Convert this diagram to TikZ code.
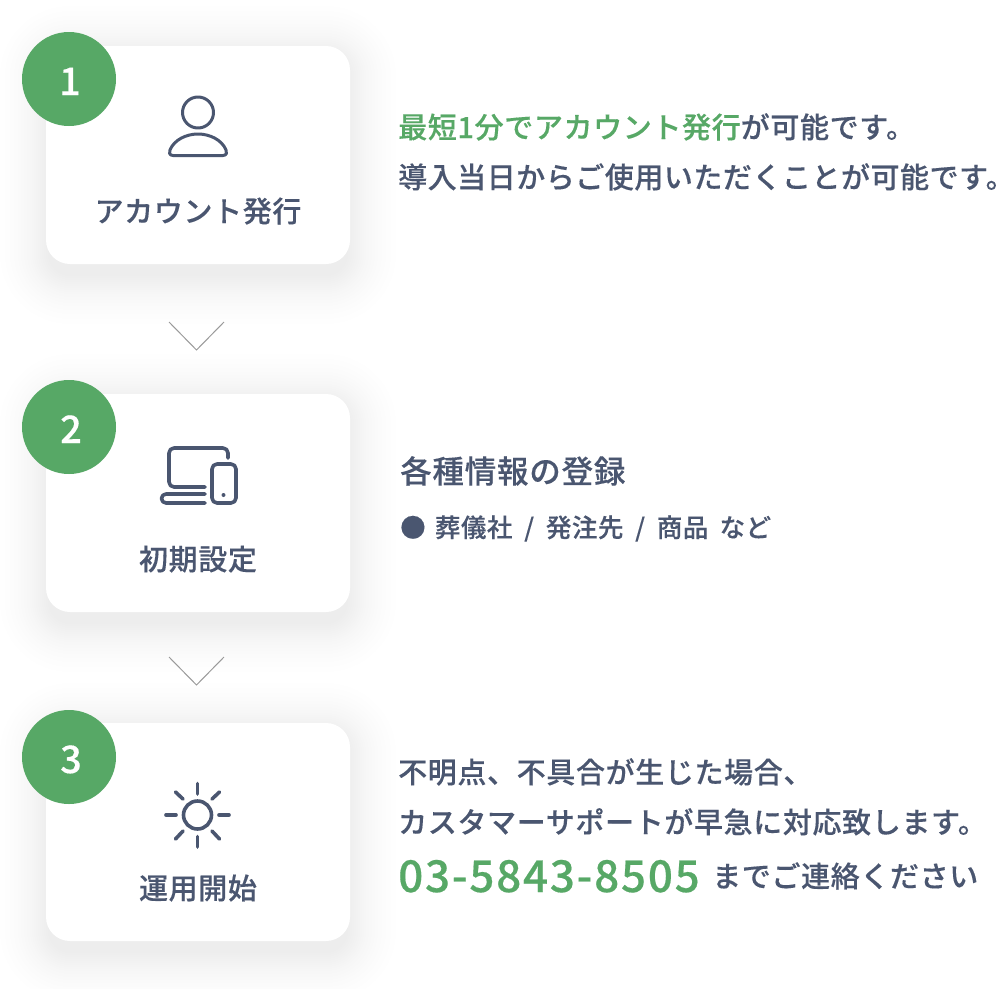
\documentclass[tikz,border=0pt]{standalone}
\usepackage{fontspec}
\setmainfont{Noto Sans CJK JP}[LetterSpace=3]
\newfontfamily\jpm{Noto Sans CJK JP Medium}[LetterSpace=2.2,FakeBold=0.25]
\newfontfamily\jpt{Noto Sans CJK JP Medium}[LetterSpace=1.8,FakeBold=0.25]
\newfontfamily\jpb{Noto Sans CJK JP Medium}[LetterSpace=2.5,FakeBold=0.25]
\newfontfamily\jps{Noto Sans CJK JP Medium}[LetterSpace=2,FakeBold=0.25]
\newfontfamily\jpn{Noto Sans CJK JP Medium}[LetterSpace=4,FakeBold=0.4]
\definecolor{ink}{HTML}{4A5670}
\definecolor{leaf}{HTML}{57A866}
\definecolor{chev}{HTML}{9A9A9A}
\newcommand{\fsz}[1]{\fontsize{#1pt}{#1pt}\selectfont}
\tikzset{
  x=1pt,y=-1pt,
  card/.style={fill=white,rounded corners=24pt,minimum width=304pt,minimum height=218pt,inner sep=0pt},
  badge/.style={circle,fill=leaf,minimum size=94pt,inner sep=0pt},
  numeral/.style={inner sep=0pt,text=white,font=\jpn\fsz{38},anchor=base},
  lab/.style={inner sep=0pt,text=ink,font=\jpm\fsz{29},anchor=base},
  txt/.style={inner sep=0pt,text=ink,font=\jpm\fsz{29},anchor=base west},
  icon/.style={draw=ink,line width=3pt,line cap=round,line join=round},
  iconb/.style={icon,line width=3.6pt},
  chevron/.style={draw=chev,line width=1pt},
}
\newcommand{\CardShadow}[1]{%
  \foreach \d [evaluate=\d as \r using 24+\d] in {-2,0,2,4,6,8,10,12,14,16,19,22,25,28,32,36,41,46}{%
    \fill[black,opacity=.0025,rounded corners=\r pt]
      ({46-\d},{#1+6-\d}) rectangle ({350+\d},{#1+218+14+\d});
  }%
}
\begin{document}
\begin{tikzpicture}
\useasboundingbox (0,0) rectangle (1000,988);
\fill[white] (0,0) rectangle (1000,988);
\CardShadow{46}
\CardShadow{394}
\CardShadow{723}
% cards
\node[card] (c1) at (198,155) {};
\node[card] (c2) at (198,503) {};
\node[card] (c3) at (198,832) {};
\node[badge] (b1) at (69,79) {};
\node[badge] (b2) at (69,427) {};
\node[badge] (b3) at (69,757) {};
\node[numeral] (n1) at (70,95) {1};
\node[numeral] (n2) at (71,443) {2};
\node[numeral] (n3) at (71,773) {3};
% chevrons
\draw[chevron] (169,322) -- (196.5,350) -- (224,322);
\draw[chevron] (169,657) -- (196.5,685) -- (224,657);
% person
\draw[icon] (198,112.5) circle (15.5);
\draw[icon] (173,155.5) .. controls (169,155.5) and (169,152) .. (170,150)
  .. controls (174,140) and (186,134) .. (198,134)
  .. controls (210,134) and (222,140) .. (226,150)
  .. controls (227,152) and (227,155.5) .. (223,155.5) -- cycle;
% devices
\draw[iconb] (228,458) -- (228,453) arc (0:-90:5) -- (174,448) arc (-90:-180:5)
  -- (169,482) arc (180:90:5) -- (205,487);
\draw[iconb] (205,494) -- (166,494) arc (-90:-270:4.5) -- (205,503);
\draw[iconb,rounded corners=5pt] (212,464) rectangle (236,503);
\fill[ink] (223.5,495) circle (2);
% sun
\draw[iconb] (197.5,815) circle (14);
\draw[iconb] (197.5,783.5) -- (197.5,794);
\draw[iconb] (197.5,836.5) -- (197.5,847);
\draw[iconb] (166,815) -- (176,815);
\draw[iconb] (219,815) -- (229,815);
\draw[iconb] (175.5,792) -- (183,799);
\draw[iconb] (219.5,792) -- (212,799);
\draw[iconb] (175.5,839) -- (183,831);
\draw[iconb] (219.5,839) -- (212,831);
% labels
\node[lab] (l1) at (198,222) {アカウント発行};
\node[lab] (l2) at (198,570) {初期設定};
\node[lab] (l3) at (198,899) {運用開始};
% text 1
\node[txt] (t1) at (398,138) {\textcolor{leaf}{最短1分でアカウント発行}が可能です。};
\node[txt,font=\jpt\fsz{29}] (t2) at (398,188) {導入当日からご使用いただくことが可能です。\hspace{-26pt}};
% text 2
\node[txt,font=\jpb\fsz{31.5}] (t3) at (400,483) {各種情報の登録};
\node[txt,font=\jps\fsz{25.5}] (t4) at (400,537) {●\hspace{3pt} 葬儀社\hspace{5.5pt} /\hspace{5.5pt} 発注先\hspace{5.5pt} /\hspace{5.5pt} 商品\hspace{5pt} など};
% text 3
\node[txt] (t5) at (398,783) {不明点、不具合が生じた場合、};
\node[txt] (t6) at (398,833) {カスタマーサポートが早急に対応致します。};
\node[txt,text=leaf,font=\jpn\fsz{44}] (t7) at (398,892) {03-5843-8505};
\node[txt] (t8) at (712,887) {までご連絡ください};
\end{tikzpicture}
\end{document}
